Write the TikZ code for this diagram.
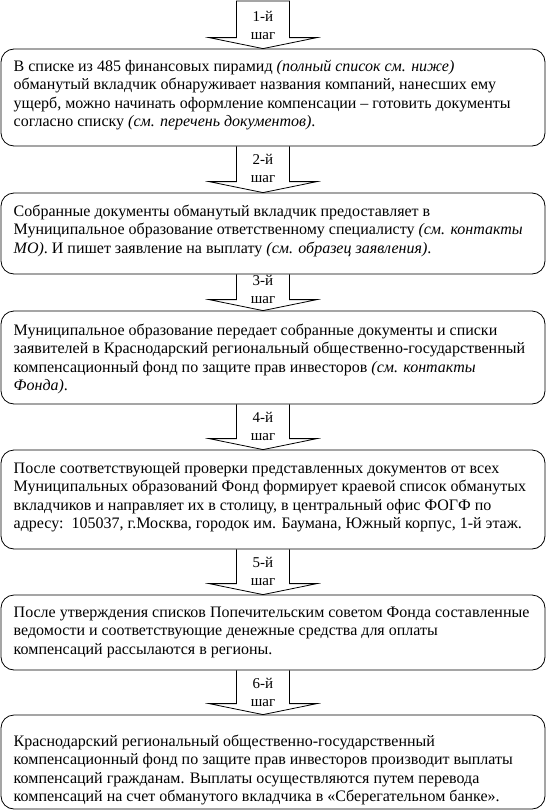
\documentclass[tikz,border=0pt]{standalone}
\usepackage{fontspec}
\setmainfont{Liberation Serif}
\usetikzlibrary{calc}
\tikzset{
  stepbox/.style={draw, line width=0.8pt, rounded corners=13pt, minimum width=544pt, inner sep=0pt},
  boxtext/.style={anchor=north west, align=left, inner sep=0pt, font={\fontsize{16}{18.4}\selectfont}},
  arrowline/.style={draw, line width=0.8pt, line join=miter},
  steplabel/.style={align=center, inner sep=0pt, font={\fontsize{15}{18.5}\selectfont}}
}
\newcommand\firstline{\rule{0pt}{14pt}}
% arrow from the bottom of box #1 to the top of box #2 (axis 10pt left of the box centre)
\newcommand\steparrow[2]{%
  \draw[arrowline] ($(#1.south)+(-36.5,0)$) -- ($(#2.north)+(-36.5,-11)$) -- ($(#2.north)+(-64,-11)$)
    -- ($(#2.north)+(-10,0)$) -- ($(#2.north)+(44,-11)$) -- ($(#2.north)+(16.5,-11)$) -- ($(#1.south)+(16.5,0)$);}
\begin{document}
\begin{tikzpicture}[x=1pt,y=-1pt]
\useasboundingbox (0,0) rectangle (546,811);
% boxes
\node[stepbox, minimum height=97pt] (b1) at (273,97.5) {};
\node[stepbox, minimum height=81pt] (b2) at (273,233.5) {};
\node[stepbox, minimum height=93pt] (b3) at (273,357.5) {};
\node[stepbox, minimum height=99pt] (b4) at (273,499.5) {};
\node[stepbox, minimum height=75pt] (b5) at (273,632.5) {};
\node[stepbox, minimum height=94pt] (b6) at (273,762) {};
% arrows
\coordinate (top1) at (273,1);
\draw[arrowline] ($(top1)+(-36.5,0)$) -- ($(b1.north)+(-36.5,-11)$) -- ($(b1.north)+(-64,-11)$)
    -- ($(b1.north)+(-10,0)$) -- ($(b1.north)+(44,-11)$) -- ($(b1.north)+(16.5,-11)$) -- ($(top1)+(16.5,0)$) -- cycle;
\steparrow{b1}{b2}
\steparrow{b2}{b3}
\steparrow{b3}{b4}
\steparrow{b4}{b5}
\steparrow{b5}{b6}
% labels
\node[steplabel] (l1) at ($(top1)+(-10,24.5)$) {1-й\\шаг};
\node[steplabel] (l2) at ($(b1.south)+(-10,22)$) {2-й\\шаг};
\node[steplabel] (l3) at ($(b2.south)+(-10,15)$) {3-й\\шаг};
\node[steplabel] (l4) at ($(b3.south)+(-10,22)$) {4-й\\шаг};
\node[steplabel] (l5) at ($(b4.south)+(-10,22)$) {5-й\\шаг};
\node[steplabel] (l6) at ($(b5.south)+(-10,22)$) {6-й\\шаг};
% texts
\node[boxtext] (t1) at (13.5,57) {\firstline В списке из 485 финансовых пирамид \textit{(полный список см. ниже)}\\
обманутый вкладчик обнаруживает названия компаний, нанесших ему\\
ущерб, можно начинать оформление компенсации – готовить документы\\
согласно списку \textit{(см. перечень документов)}.};
\node[boxtext] (t2) at (13.5,202) {\firstline Собранные документы обманутый вкладчик предоставляет в\\
Муниципальное образование ответственному специалисту \textit{(см. контакты}\\
\textit{МО)}. И пишет заявление на выплату \textit{(см. образец заявления)}.};
\node[boxtext] (t3) at (13.5,321) {\firstline Муниципальное образование передает собранные документы и списки\\
заявителей в Краснодарский региональный общественно-государственный\\
компенсационный фонд по защите прав инвесторов \textit{(см. контакты}\\
\textit{Фонда)}.};
\node[boxtext] (t4) at (13.5,459) {\firstline После соответствующей проверки представленных документов от всех\\
Муниципальных образований Фонд формирует краевой список обманутых\\
вкладчиков и направляет их в столицу, в центральный офис ФОГФ по\\
адресу:~~105037, г.Москва, городок им. Баумана, Южный корпус, 1-й этаж.};
\node[boxtext] (t5) at (13.5,603) {\firstline После утверждения списков Попечительским советом Фонда составленные\\
ведомости и соответствующие денежные средства для оплаты\\
компенсаций рассылаются в регионы.};
\node[boxtext] (t6) at (13.5,732) {\firstline Краснодарский региональный общественно-государственный\\
компенсационный фонд по защите прав инвесторов производит выплаты\\
компенсаций гражданам. Выплаты осуществляются путем перевода\\
компенсаций на счет обманутого вкладчика в «Сберегательном банке».};
\end{tikzpicture}
\end{document}
